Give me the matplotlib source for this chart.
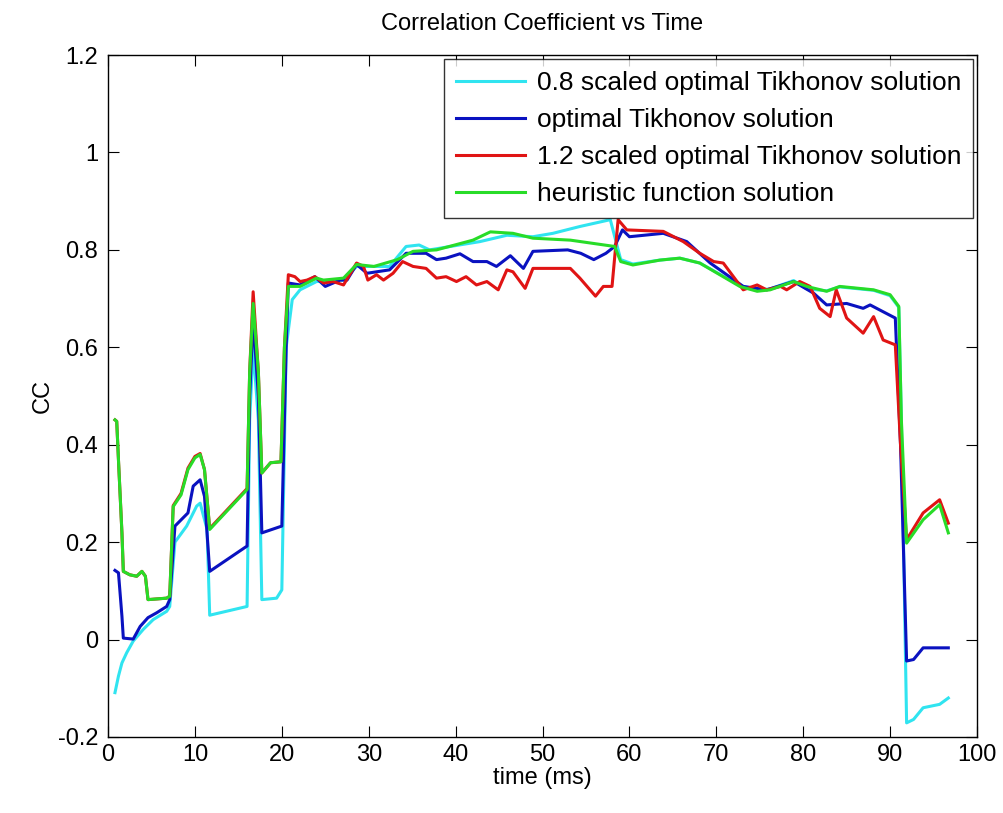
import matplotlib
matplotlib.use('Agg')
import matplotlib.pyplot as plt

# 0.8 scaled optimal Tikhonov solution
t_cyan = [0.8, 1.2, 1.6, 2.15, 2.9, 4.06, 5.2, 6.75, 7.1, 7.7, 9.05, 10.2, 10.6, 11.4, 11.7,
          16.0, 16.3, 16.7, 17.3, 17.7, 19.4, 20.0, 20.5, 21.2, 22.1, 24.0, 27.1, 28.6, 32.4,
          34.3, 35.8, 37.0, 42.8, 45.9, 48.9, 51.2, 54.3, 57.8, 59.0, 60.4, 63.5, 65.8, 68.1,
          72.7, 74.7, 76.2, 78.9, 80.4, 82.7, 84.2, 88.1, 90.0, 91.0, 91.3, 91.9, 92.7, 93.8,
          95.7, 96.7]
cc_cyan = [-0.109, -0.075, -0.048, -0.027, -0.003, 0.021, 0.041, 0.058, 0.068, 0.20, 0.233, 0.274,
           0.28, 0.226, 0.05, 0.068, 0.45, 0.60, 0.45, 0.082, 0.085, 0.102, 0.60, 0.698, 0.718,
           0.735, 0.738, 0.766, 0.766, 0.807, 0.81, 0.80, 0.817, 0.83, 0.827, 0.834, 0.848,
           0.862, 0.78, 0.771, 0.779, 0.783, 0.773, 0.727, 0.717, 0.72, 0.737, 0.72, 0.716,
           0.724, 0.717, 0.706, 0.682, 0.45, -0.171, -0.164, -0.14, -0.133, -0.12]

# optimal Tikhonov solution
t_blue = [0.8, 1.2, 1.6, 1.76, 2.9, 3.7, 4.6, 5.6, 6.75, 7.1, 7.7, 9.2, 9.8, 10.6, 11.1, 11.7,
          16.0, 16.3, 16.7, 17.3, 17.7, 20.0, 20.5, 20.75, 22.1, 23.8, 25.0, 26.7, 27.5, 28.6,
          29.8, 32.4, 34.3, 36.6, 37.8, 38.9, 40.5, 42.0, 43.6, 44.7, 46.3, 47.8, 48.9, 52.9,
          54.4, 55.9, 57.3, 58.3, 59.2, 60.0, 63.9, 66.6, 69.3, 73.1, 75.8, 78.9, 81.2, 82.7,
          85.0, 86.9, 87.7, 89.2, 90.6, 91.2, 91.9, 92.7, 93.8, 96.7]
cc_blue = [0.142, 0.137, 0.048, 0.003, 0.001, 0.027, 0.045, 0.055, 0.068, 0.082, 0.233, 0.26,
           0.315, 0.328, 0.294, 0.14, 0.192, 0.50, 0.66, 0.50, 0.219, 0.233, 0.60, 0.732, 0.728,
           0.745, 0.725, 0.738, 0.738, 0.77, 0.752, 0.759, 0.793, 0.793, 0.78, 0.783, 0.792,
           0.776, 0.776, 0.766, 0.788, 0.762, 0.797, 0.80, 0.793, 0.78, 0.793, 0.807, 0.841,
           0.827, 0.834, 0.817, 0.773, 0.725, 0.718, 0.735, 0.711, 0.687, 0.69, 0.68, 0.687,
           0.673, 0.66, 0.40, -0.044, -0.041, -0.017, -0.017]

# 1.2 scaled optimal Tikhonov solution
t_red = [0.8, 1.0, 1.2, 1.6, 1.76, 2.5, 3.3, 3.9, 4.3, 4.6, 6.75, 7.1, 7.5, 8.4, 9.2, 10.0,
         10.6, 11.1, 11.7, 16.0, 16.3, 16.7, 17.3, 17.7, 18.7, 19.9, 20.3, 20.75, 21.5, 22.1,
         22.9, 23.8, 24.8, 25.9, 27.1, 28.6, 29.4, 29.9, 30.9, 31.7, 32.8, 33.9, 35.1, 36.6,
         37.8, 38.9, 40.1, 41.2, 42.4, 43.6, 44.9, 45.9, 46.6, 48.0, 48.9, 53.2, 54.3, 56.1,
         57.0, 58.0, 58.7, 59.7, 63.9, 66.2, 68.1, 69.7, 70.8, 73.1, 74.7, 75.8, 77.4, 78.1,
         79.6, 80.8, 81.9, 83.1, 83.8, 85.0, 86.9, 88.1, 89.2, 90.6, 91.2, 91.9, 93.8, 95.7,
         96.7]
cc_red = [0.451, 0.448, 0.369, 0.219, 0.14, 0.133, 0.13, 0.14, 0.13, 0.082, 0.085, 0.089, 0.275,
          0.30, 0.352, 0.376, 0.382, 0.349, 0.228, 0.31, 0.55, 0.714, 0.55, 0.342, 0.363,
          0.365, 0.60, 0.749, 0.745, 0.735, 0.738, 0.745, 0.732, 0.735, 0.728, 0.773, 0.766,
          0.738, 0.749, 0.738, 0.752, 0.776, 0.766, 0.762, 0.742, 0.745, 0.735, 0.745, 0.728,
          0.735, 0.718, 0.759, 0.755, 0.721, 0.762, 0.762, 0.742, 0.705, 0.725, 0.725, 0.862,
          0.841, 0.838, 0.817, 0.793, 0.776, 0.773, 0.718, 0.728, 0.718, 0.725, 0.718, 0.735,
          0.725, 0.68, 0.663, 0.718, 0.66, 0.629, 0.663, 0.615, 0.605, 0.40, 0.205, 0.26,
          0.287, 0.239]

# heuristic function solution
t_green = [0.8, 1.0, 1.2, 1.6, 1.76, 2.5, 3.3, 3.9, 4.3, 4.6, 6.75, 7.1, 7.5, 8.4, 9.2, 10.0,
           10.6, 11.1, 11.7, 16.0, 16.3, 16.7, 17.3, 17.7, 18.7, 19.9, 20.3, 20.75, 22.1, 24.0,
           24.8, 27.1, 28.6, 30.6, 33.3, 35.1, 37.8, 42.0, 44.0, 46.6, 48.9, 53.2, 58.3, 59.0,
           60.4, 63.5, 65.8, 68.1, 72.7, 74.7, 76.2, 78.9, 80.4, 82.7, 84.2, 88.1, 90.0, 91.0,
           91.3, 91.9, 93.8, 95.7, 96.7]
cc_green = [0.451, 0.448, 0.369, 0.219, 0.14, 0.133, 0.13, 0.14, 0.13, 0.082, 0.085, 0.089,
            0.273, 0.297, 0.349, 0.373, 0.38, 0.349, 0.226, 0.308, 0.55, 0.69, 0.55, 0.342,
            0.363, 0.365, 0.60, 0.725, 0.725, 0.742, 0.738, 0.742, 0.77, 0.766, 0.78, 0.797,
            0.80, 0.82, 0.837, 0.834, 0.824, 0.82, 0.807, 0.776, 0.769, 0.779, 0.783, 0.773,
            0.725, 0.715, 0.718, 0.735, 0.725, 0.715, 0.725, 0.718, 0.708, 0.684, 0.45, 0.198,
            0.246, 0.277, 0.219]

labels = ['0.8 scaled optimal Tikhonov solution', 'optimal Tikhonov solution',
          '1.2 scaled optimal Tikhonov solution', 'heuristic function solution']

plt.rcParams['font.family'] = ['Liberation Sans', 'DejaVu Sans']

fig = plt.figure(figsize=(10.04, 8.13), dpi=100)
ax = fig.add_axes([0.1076, 0.0935, 0.8655, 0.8388])

ax.plot(t_cyan, cc_cyan, color='#30e4f0', lw=2.2, label=labels[0])
ax.plot(t_blue, cc_blue, color='#0a12c0', lw=2.2, label=labels[1])
ax.plot(t_red, cc_red, color='#e01414', lw=2.2, label=labels[2])
ax.plot(t_green, cc_green, color='#28dc28', lw=2.2, label=labels[3])

ax.set_xlim(0, 100)
ax.set_ylim(-0.2, 1.2)
ax.set_xticks(range(0, 101, 10))
ax.set_yticks([-0.2, 0, 0.2, 0.4, 0.6, 0.8, 1, 1.2])
ax.set_yticklabels(['-0.2', '0', '0.2', '0.4', '0.6', '0.8', '1', '1.2'])
ax.tick_params(direction='in', top=True, right=True, length=8, labelsize=17)
ax.tick_params(axis='x', pad=5)
ax.tick_params(axis='y', pad=7)
for s in ax.spines.values():
    s.set_linewidth(1.0)

ax.set_xlabel('time (ms)', fontsize=17, labelpad=1)
ax.set_ylabel('CC', fontsize=17, labelpad=3)
ax.set_title('Correlation Coefficient vs Time', fontsize=17, pad=18)

leg = ax.legend(loc='upper right', fontsize=19, frameon=True, fancybox=False,
                edgecolor='black', handlelength=2.6, borderaxespad=0.15, labelspacing=0.5,
                handletextpad=0.45, borderpad=0.45)
leg.get_frame().set_linewidth(1.0)

fig.savefig('out.png', dpi=100)
